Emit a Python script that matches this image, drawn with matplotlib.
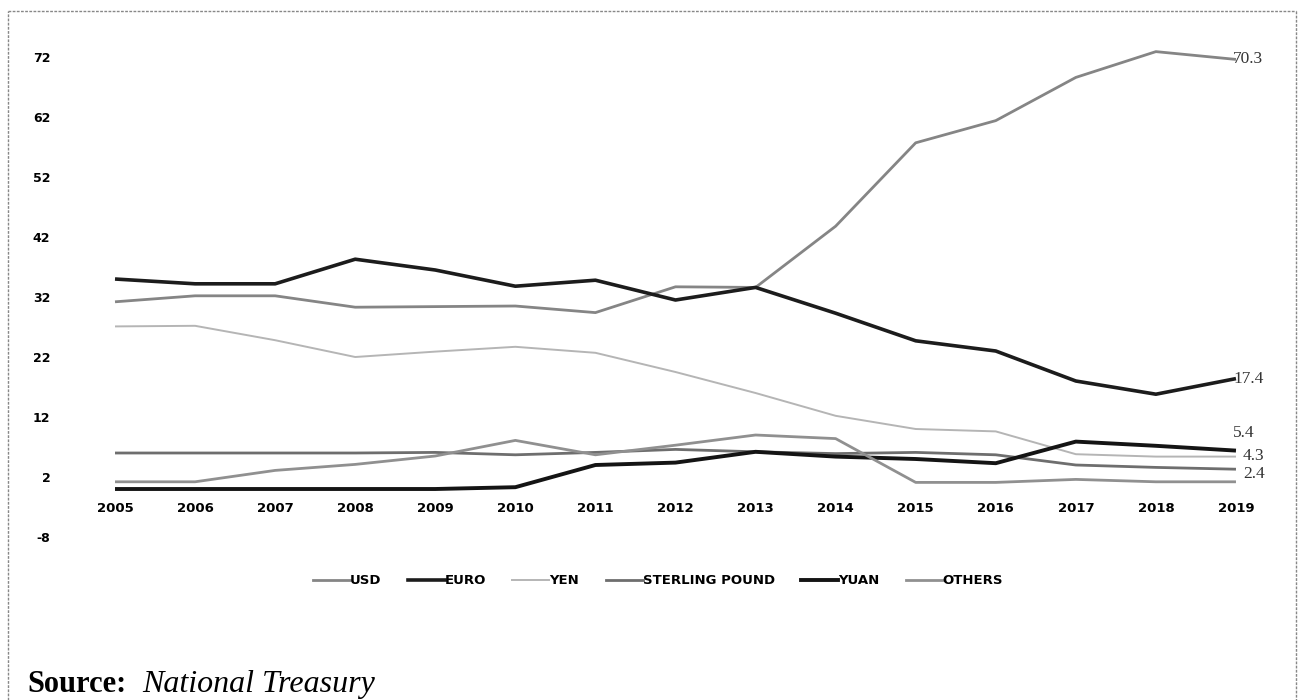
import matplotlib.pyplot as plt
from matplotlib.lines import Line2D

years = list(range(2005, 2020))

usd = [31.2, 32.2, 32.2, 30.3, 30.4, 30.5, 29.4, 33.7, 33.6, 43.8, 57.7, 61.4, 68.6, 72.9, 71.6]
euro = [35.0, 34.2, 34.2, 38.3, 36.5, 33.8, 34.8, 31.5, 33.6, 29.3, 24.7, 23.0, 18.0, 15.8, 18.4]
yen = [27.1, 27.2, 24.8, 22.0, 22.9, 23.7, 22.7, 19.5, 16.0, 12.2, 10.0, 9.6, 5.8, 5.4, 5.4]
sterling = [6.0, 6.0, 6.0, 6.0, 6.1, 5.7, 6.1, 6.6, 6.2, 5.9, 6.1, 5.7, 4.0, 3.6, 3.3]
yuan = [0.0, 0.0, 0.0, 0.0, 0.0, 0.3, 4.0, 4.4, 6.2, 5.4, 5.0, 4.3, 7.9, 7.2, 6.4]
others = [1.2, 1.2, 3.1, 4.1, 5.5, 8.1, 5.7, 7.3, 9.0, 8.4, 1.1, 1.1, 1.6, 1.2, 1.2]

names = ["USD", "EURO", "YEN", "STERLING POUND", "YUAN", "OTHERS"]
end_labels = ["70.3", "17.4", "5.4", "4.3", "2.4"]
end_series = [usd, euro, yuan, yen, sterling]
yticks = [-8, 2, 12, 22, 32, 42, 52, 62, 72]

series = [usd, euro, yen, sterling, yuan, others]
colours = ["#858585", "#1c1c1c", "#b5b5b5", "#6e6e6e", "#141414", "#909090"]
widths = [2.0, 2.6, 1.4, 2.0, 2.8, 2.0]

W, H = 1298, 700
fig = plt.figure(figsize=(W / 100, H / 100), dpi=100)
ax = fig.add_axes([60 / W, 163 / H, 1210 / W, 0.7114])

for s, c, lw in zip(series, colours, widths):
    ax.plot(years, s, color=c, linewidth=lw, solid_capstyle='butt')

ax.set_xlim(2004.313, 2019.425)
ax.set_ylim(-8, 75)
ax.spines['bottom'].set_position(('data', 0))
for sp in ax.spines.values():
    sp.set_visible(False)
ax.set_yticks(yticks)
ax.set_yticklabels([str(t) for t in yticks])
ax.set_xticks(years)
ax.set_xticklabels([str(y) for y in years])
ax.tick_params(length=0)
ax.tick_params(axis='x', pad=9)
ax.tick_params(axis='y', pad=7)
for lab in ax.get_xticklabels():
    lab.set_fontfamily('DejaVu Sans')
    lab.set_fontweight('bold')
    lab.set_fontsize(9.5)
for lab in ax.get_yticklabels():
    lab.set_fontfamily('DejaVu Sans')
    lab.set_fontweight('bold')
    lab.set_fontsize(9)

# end-of-line labels
offs = [(-2, 0), (-2, 0), (-2, 2.9), (5, 0.1), (5, -0.8)]
for lab, s, (dx, dy) in zip(end_labels, end_series, offs):
    ax.annotate(lab, xy=(years[-1], s[-1] + dy), xytext=(dx, 0), textcoords='offset points',
                fontfamily='Liberation Serif', fontsize=12.5, color='#333333', va='center', ha='left')

handles = [Line2D([0], [0], color=c, linewidth=lw) for c, lw in zip(colours, widths)]
fig.legend(handles, names, loc='center', bbox_to_anchor=(658 / W, 1 - 581 / H), ncol=6,
           frameon=False, handlelength=2.8, handletextpad=0.0, columnspacing=2.0,
           prop={'family': 'DejaVu Sans', 'weight': 'bold', 'size': 9.5})

# outer border
for xs, ys in [([8, 8], [700, 11]), ([8, 1296], [11, 11]), ([1296, 1296], [11, 700])]:
    fig.add_artist(Line2D([x / W for x in xs], [1 - y / H for y in ys],
                          color='#888888', lw=1, linestyle=(0, (2, 1))))

fig.text(27 / W, 8 / H, "Source:", fontfamily='Liberation Serif', fontweight='bold', fontsize=22, va='baseline')
fig.text(142 / W, 8 / H, "National Treasury", fontfamily='Liberation Serif', fontstyle='italic', fontsize=23, va='baseline')

fig.savefig("out.png", dpi=100)
